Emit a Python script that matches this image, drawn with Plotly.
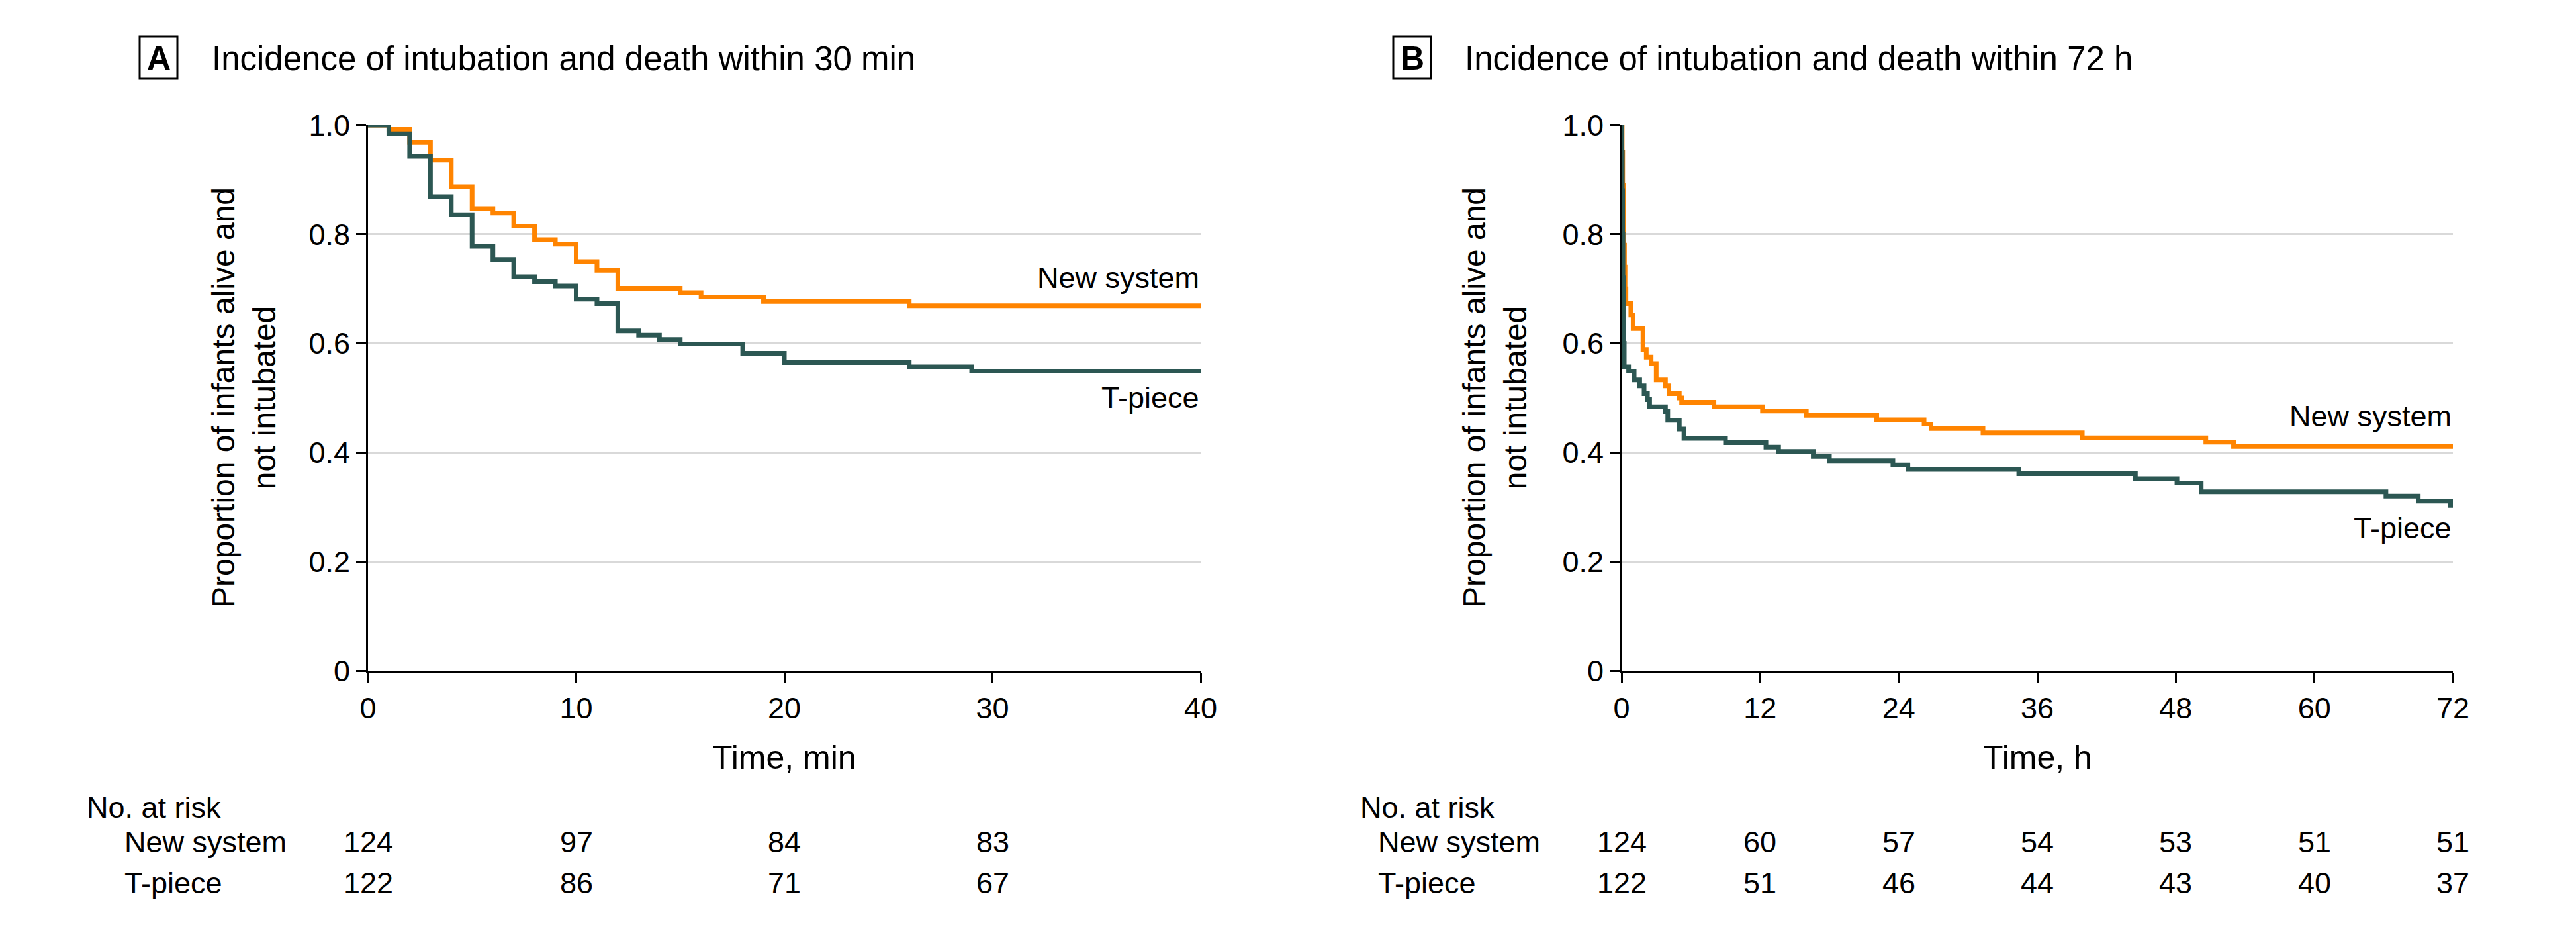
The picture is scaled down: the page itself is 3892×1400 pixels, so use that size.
import plotly.graph_objects as go

# ---------------- data ----------------
# Panel A: time in minutes
a_new_t = [0, 1, 2, 3, 4, 5, 6, 7, 8, 9, 10, 11, 12, 15, 16, 19, 26]
a_new_s = [1.0, 0.992, 0.968, 0.936, 0.887, 0.847, 0.839, 0.815, 0.790, 0.782,
           0.750, 0.734, 0.701, 0.693, 0.685, 0.677, 0.669]
a_tp_t = [0, 1, 2, 3, 4, 5, 6, 7, 8, 9, 10, 11, 12, 13, 14, 15, 18, 20, 26, 29]
a_tp_s = [1.0, 0.984, 0.943, 0.869, 0.836, 0.778, 0.754, 0.722, 0.713, 0.705,
          0.681, 0.673, 0.623, 0.615, 0.607, 0.599, 0.582, 0.565, 0.557, 0.549]

# Panel B: time in hours
b_new_t = [0, 0.05, 0.1, 0.15, 0.2, 0.25, 0.3, 0.38, 0.8, 1.0,
           1.85, 2.14, 2.56, 3.0, 3.8, 4.1, 5.0, 5.2, 8.0, 12.2,
           16.0, 22.1, 26.2, 26.8, 31.3, 39.9, 50.6, 53.0]
b_new_s = [1.0, 0.95, 0.89, 0.83, 0.78, 0.74, 0.70, 0.673, 0.652, 0.627,
           0.589, 0.575, 0.563, 0.533, 0.522, 0.508, 0.500, 0.492, 0.484, 0.476,
           0.468, 0.460, 0.452, 0.444, 0.436, 0.427, 0.419, 0.411]
b_tp_t = [0, 0.03, 0.06, 0.09, 0.12, 0.16, 0.2, 0.23, 0.61, 1.09,
          1.57, 1.95, 2.24, 2.43, 3.8, 4.0, 5.0, 5.4, 9.0, 12.5,
          13.6, 16.6, 18.0, 23.5, 24.8, 34.4, 44.5, 48.1, 50.2, 66.2,
          69.0, 71.8]
b_tp_s = [1.0, 0.95, 0.88, 0.80, 0.72, 0.65, 0.60, 0.557, 0.549, 0.533,
          0.522, 0.508, 0.497, 0.484, 0.475, 0.459, 0.443, 0.426, 0.418, 0.410,
          0.402, 0.393, 0.385, 0.377, 0.369, 0.361, 0.352, 0.344, 0.328, 0.320,
          0.311, 0.303]

a_xticks = [0, 10, 20, 30, 40]
b_xticks = [0, 12, 24, 36, 48, 60, 72]
y_ticks = [0, 0.2, 0.4, 0.6, 0.8, 1.0]
y_ticktext = ["0", "0.2", "0.4", "0.6", "0.8", "1.0"]

a_risk_times = [0, 10, 20, 30]
a_risk_new = [124, 97, 84, 83]
a_risk_tp = [122, 86, 71, 67]
b_risk_times = [0, 12, 24, 36, 48, 60, 72]
b_risk_new = [124, 60, 57, 54, 53, 51, 51]
b_risk_tp = [122, 51, 46, 44, 43, 40, 37]

groups = ["New system", "T-piece"]
titles = ["Incidence of intubation and death within 30 min",
          "Incidence of intubation and death within 72 h"]
panel_letters = ["A", "B"]
x_titles = ["Time, min", "Time, h"]
y_title = "Proportion of infants alive and<br>not intubated"

# ---------------- style ----------------
W, H = 3892, 1400
OFF = 8  # page body margin
ORANGE = "#FF8400"
TEAL = "#2C5753"
FONT = "Liberation Sans, Arial, sans-serif"
FS = 45


def px_x(p):
    return (p - OFF) / W


def px_y(p):
    return 1 - (p - OFF) / H


# plot areas in pixels
A_L, A_R = 556, 1814
B_L, B_R = 2450, 3706
P_T, P_B = 189, 1013

fig = go.Figure()


def ext(t, s, end):
    return list(t) + [end], list(s) + [s[-1]]


for (tt, ss, col, xa, ya, end) in [
    (a_new_t, a_new_s, ORANGE, "x", "y", 40),
    (a_tp_t, a_tp_s, TEAL, "x", "y", 40),
    (b_new_t, b_new_s, ORANGE, "x2", "y2", 72),
    (b_tp_t, b_tp_s, TEAL, "x2", "y2", 72),
]:
    xx, yy = ext(tt, ss, end)
    fig.add_trace(go.Scatter(x=xx, y=yy, mode="lines", line=dict(color=col, width=7, shape="hv"),
                             xaxis=xa, yaxis=ya, showlegend=False, cliponaxis=False, hoverinfo="skip"))

common_x = dict(showgrid=False, zeroline=False, showline=True, linecolor="black", linewidth=3,
                ticks="outside", ticklen=15, tickwidth=3, tickcolor="black", automargin=False,
                tickfont=dict(family=FONT, size=FS, color="black"))
common_y = dict(showgrid=True, gridcolor="#D9D9D9", gridwidth=3, zeroline=False, showline=True,
                linecolor="black", linewidth=3, ticks="outside", ticklen=15, tickwidth=3,
                tickcolor="black", tickvals=y_ticks, ticktext=y_ticktext, range=[0, 1.0],
                automargin=False, tickfont=dict(family=FONT, size=FS, color="black"))

fig.update_layout(
    template="none",
    width=W, height=H, margin=dict(l=0, r=0, t=0, b=0, pad=0, autoexpand=False),
    paper_bgcolor="white", plot_bgcolor="white",
    xaxis=dict(domain=[px_x(A_L), px_x(A_R)], range=[0, 40], tickvals=a_xticks, anchor="y", **common_x),
    yaxis=dict(domain=[px_y(P_B), px_y(P_T)], anchor="x", **common_y),
    xaxis2=dict(domain=[px_x(B_L), px_x(B_R)], range=[0, 72], tickvals=b_xticks, anchor="y2", **common_x),
    yaxis2=dict(domain=[px_y(P_B), px_y(P_T)], anchor="x2", **common_y),
)

ann = []
shapes = []
font = dict(family=FONT, size=FS, color="black")
title_font = dict(family=FONT, size=51, color="black")
xt_font = dict(family=FONT, size=50, color="black")
yt_font = dict(family=FONT, size=48, color="black")

panels = [
    dict(L=A_L, R=A_R, xref="x", yref="y", xend=40, box=(211, 268), text_x=318, ytitle_x=368,
         risk_lbl_x=129, grp_x=186, rt=a_risk_times, rn=a_risk_new, rp=a_risk_tp,
         lab_new=0.72, lab_tp=0.50),
    dict(L=B_L, R=B_R, xref="x2", yref="y2", xend=72, box=(2105, 2162), text_x=2211, ytitle_x=2258,
         risk_lbl_x=2053, grp_x=2080, rt=b_risk_times, rn=b_risk_new, rp=b_risk_tp,
         lab_new=0.467, lab_tp=0.262),
]

for i, p in enumerate(panels):
    # panel letter box
    shapes.append(dict(type="rect", xref="paper", yref="paper",
                       x0=px_x(p["box"][0]), x1=px_x(p["box"][1]), y0=px_y(119), y1=px_y(55),
                       line=dict(color="black", width=3), fillcolor="white"))
    ann.append(dict(text="<b>%s</b>" % panel_letters[i], xref="paper", yref="paper",
                    x=px_x((p["box"][0] + p["box"][1]) / 2), y=px_y(88), xanchor="center", yanchor="middle",
                    showarrow=False, font=dict(family=FONT, size=50, color="black")))
    ann.append(dict(text=titles[i], xref="paper", yref="paper", x=px_x(p["text_x"]), y=px_y(88),
                    xanchor="left", yanchor="middle", showarrow=False, font=title_font))
    # y title
    ann.append(dict(text=y_title, xref="paper", yref="paper", x=px_x(p["ytitle_x"]),
                    y=px_y((P_T + P_B) / 2), xanchor="center", yanchor="middle", textangle=-90,
                    showarrow=False, font=yt_font))
    # x title
    ann.append(dict(text=x_titles[i], xref="paper", yref="paper", x=px_x((p["L"] + p["R"]) / 2),
                    y=px_y(1144), xanchor="center", yanchor="middle", showarrow=False, font=xt_font))
    # curve labels
    ann.append(dict(text=groups[0], xref=p["xref"], yref=p["yref"], x=p["xend"], y=p["lab_new"],
                    xanchor="right", yanchor="middle", showarrow=False, font=font))
    ann.append(dict(text=groups[1], xref=p["xref"], yref=p["yref"], x=p["xend"], y=p["lab_tp"],
                    xanchor="right", yanchor="middle", showarrow=False, font=font))
    # risk table
    ann.append(dict(text="No. at risk", xref="paper", yref="paper", x=px_x(p["risk_lbl_x"]), y=px_y(1219),
                    xanchor="left", yanchor="middle", showarrow=False, font=font))
    ann.append(dict(text=groups[0], xref="paper", yref="paper", x=px_x(p["grp_x"]), y=px_y(1271),
                    xanchor="left", yanchor="middle", showarrow=False, font=font))
    ann.append(dict(text=groups[1], xref="paper", yref="paper", x=px_x(p["grp_x"]), y=px_y(1333),
                    xanchor="left", yanchor="middle", showarrow=False, font=font))
    for t, n1, n2 in zip(p["rt"], p["rn"], p["rp"]):
        ann.append(dict(text=str(n1), xref=p["xref"], yref="paper", x=t, y=px_y(1271),
                        xanchor="center", yanchor="middle", showarrow=False, font=font))
        ann.append(dict(text=str(n2), xref=p["xref"], yref="paper", x=t, y=px_y(1333),
                        xanchor="center", yanchor="middle", showarrow=False, font=font))

fig.update_layout(annotations=ann, shapes=shapes)
fig.write_html("out.html")
